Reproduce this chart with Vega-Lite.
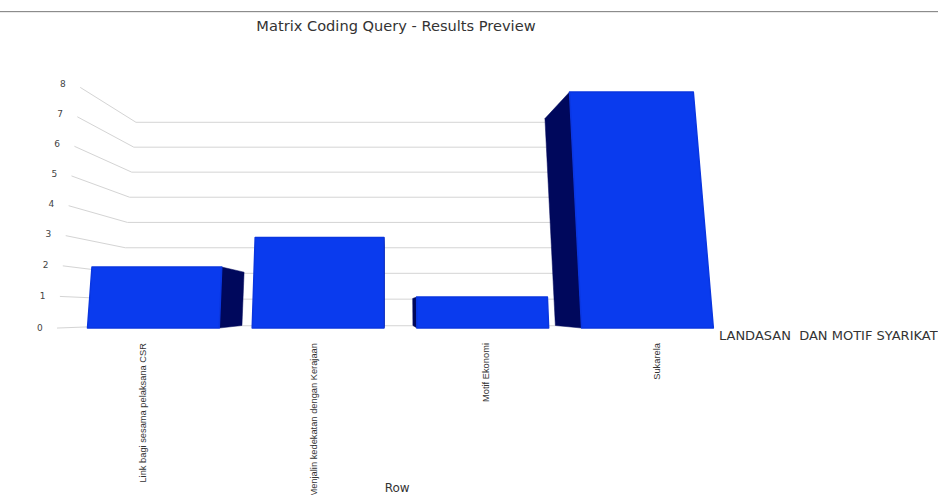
{
  "$schema": "https://vega.github.io/schema/vega-lite/v6.json",
  "width": 938,
  "height": 455,
  "autosize": {"type": "none"},
  "padding": {"top": 40, "left": 0, "right": 0, "bottom": 0},
  "background": "white",
  "datasets": {
    "bars": [
      {"row": "Link bagi sesama pelaksana CSR", "value": 2},
      {"row": "Menjalin kedekatan dengan Kerajaan", "value": 3},
      {"row": "Motif Ekonomi", "value": 1},
      {"row": "Sukarela", "value": 8}
    ],
    "ticks": [
      {"tick": 0}, {"tick": 1}, {"tick": 2}, {"tick": 3}, {"tick": 4},
      {"tick": 5}, {"tick": 6}, {"tick": 7}, {"tick": 8}
    ],
    "single": [{}]
  },
  "layer": [
    {
      "data": {"name": "single"},
      "mark": {"type": "rule", "color": "#777777", "strokeWidth": 1},
      "encoding": {
        "y": {"datum": 10.8, "type": "quantitative", "axis": null,
              "scale": {"type": "pow", "exponent": 0.976, "domain": [-5.61, 9.81], "nice": false, "zero": false}}
      }
    },
    {
      "data": {"name": "ticks"},
      "transform": [
        {"calculate": "-0.185 + 0.0176 * datum.tick", "as": "frontX"},
        {"calculate": "1.02 * datum.tick", "as": "frontY"},
        {"calculate": "0.191 + 0.0129 * datum.tick", "as": "backX"},
        {"calculate": "0.86 * datum.tick + 0.07", "as": "backY"}
      ],
      "mark": {"type": "rule", "color": "#d4d4d4", "strokeWidth": 1},
      "encoding": {
        "x": {"field": "frontX", "type": "quantitative", "axis": null,
              "scale": {"domain": [-0.5313, 5.164], "nice": false, "zero": false}},
        "x2": {"field": "backX"},
        "y": {"field": "frontY", "type": "quantitative", "axis": null,
              "scale": {"type": "pow", "exponent": 0.976, "domain": [-5.61, 9.81], "nice": false, "zero": false}},
        "y2": {"field": "backY"}
      }
    },
    {
      "data": {"name": "ticks"},
      "transform": [
        {"calculate": "0.191 + 0.0129 * datum.tick", "as": "backX"},
        {"calculate": "0.86 * datum.tick + 0.07", "as": "backY"},
        {"calculate": "2.95", "as": "wallEnd"}
      ],
      "mark": {"type": "rule", "color": "#d4d4d4", "strokeWidth": 1},
      "encoding": {
        "x": {"field": "backX", "type": "quantitative", "axis": null,
              "scale": {"domain": [-0.5313, 5.164], "nice": false, "zero": false}},
        "x2": {"field": "wallEnd"},
        "y": {"field": "backY", "type": "quantitative", "axis": null,
              "scale": {"type": "pow", "exponent": 0.976, "domain": [-5.61, 9.81], "nice": false, "zero": false}}
      }
    },
    {
      "data": {"name": "bars"},
      "transform": [
        {"window": [{"op": "row_number", "as": "n"}]},
        {"calculate": "datum.n - 1", "as": "slot"},
        {"calculate": "[0, 1, 2, 3]", "as": "corner"},
        {"flatten": ["corner"]},
        {"calculate": "datum.slot < 1.5 ? datum.slot + 0.8 : datum.slot", "as": "edge"},
        {"calculate": "datum.corner >= 2 ? datum.value : 0", "as": "level"},
        {"calculate": "datum.edge + (1.794 - datum.edge) * 0.00758 * datum.level", "as": "nearX"},
        {"calculate": "datum.corner == 1 || datum.corner == 2", "as": "far"},
        {"calculate": "datum.far ? datum.nearX + 0.135 * (1.82 - datum.nearX) : datum.nearX", "as": "px"},
        {"calculate": "datum.far ? datum.level * 0.875 + 0.078 : datum.level", "as": "py"}
      ],
      "mark": {"type": "line", "fill": "#00085c", "stroke": "#00085c", "strokeWidth": 0.5, "interpolate": "linear-closed", "strokeJoin": "round"},
      "encoding": {
        "x": {"field": "px", "type": "quantitative", "axis": null,
              "scale": {"domain": [-0.5313, 5.164], "nice": false, "zero": false}},
        "y": {"field": "py", "type": "quantitative", "axis": null,
              "scale": {"type": "pow", "exponent": 0.976, "domain": [-5.61, 9.81], "nice": false, "zero": false}},
        "detail": {"field": "row"},
        "order": {"field": "corner"}
      }
    },
    {
      "data": {"name": "bars"},
      "transform": [
        {"window": [{"op": "row_number", "as": "n"}]},
        {"calculate": "datum.n - 1", "as": "slot"},
        {"calculate": "[0, 1, 2, 3]", "as": "corner"},
        {"flatten": ["corner"]},
        {"calculate": "datum.slot + (datum.corner == 1 || datum.corner == 2 ? 0.8 : 0)", "as": "edge"},
        {"calculate": "datum.corner >= 2 ? datum.value : 0", "as": "level"},
        {"calculate": "datum.edge + (1.794 - datum.edge) * 0.00758 * datum.level", "as": "px"}
      ],
      "mark": {"type": "line", "fill": "#0a3bee", "stroke": "#0a36e0", "strokeWidth": 1.5, "interpolate": "linear-closed", "strokeJoin": "round"},
      "encoding": {
        "x": {"field": "px", "type": "quantitative", "axis": null,
              "scale": {"domain": [-0.5313, 5.164], "nice": false, "zero": false}},
        "y": {"field": "level", "type": "quantitative", "axis": null,
              "scale": {"type": "pow", "exponent": 0.976, "domain": [-5.61, 9.81], "nice": false, "zero": false}},
        "detail": {"field": "row"},
        "order": {"field": "corner"}
      }
    },
    {
      "data": {"name": "ticks"},
      "transform": [
        {"calculate": "-0.29 + 0.0176 * datum.tick", "as": "labelX"},
        {"calculate": "1.035 * datum.tick", "as": "labelY"}
      ],
      "mark": {"type": "text", "font": "DejaVu Sans", "fontSize": 9, "color": "#444444", "align": "center", "baseline": "middle"},
      "encoding": {
        "x": {"field": "labelX", "type": "quantitative", "axis": null,
              "scale": {"domain": [-0.5313, 5.164], "nice": false, "zero": false}},
        "y": {"field": "labelY", "type": "quantitative", "axis": null,
              "scale": {"type": "pow", "exponent": 0.976, "domain": [-5.61, 9.81], "nice": false, "zero": false}},
        "text": {"field": "tick", "type": "quantitative"}
      }
    },
    {
      "data": {"name": "bars"},
      "transform": [
        {"window": [{"op": "row_number", "as": "n"}]},
        {"calculate": "1.04 * (datum.n - 1) + 0.337", "as": "labelX"},
        {"calculate": "-0.475", "as": "labelY"}
      ],
      "mark": {"type": "text", "font": "Liberation Sans", "fontSize": 9.3, "color": "#333333", "angle": 270, "align": "right", "baseline": "middle"},
      "encoding": {
        "x": {"field": "labelX", "type": "quantitative", "axis": null,
              "scale": {"domain": [-0.5313, 5.164], "nice": false, "zero": false}},
        "y": {"field": "labelY", "type": "quantitative", "axis": null,
              "scale": {"type": "pow", "exponent": 0.976, "domain": [-5.61, 9.81], "nice": false, "zero": false}},
        "text": {"field": "row"}
      }
    },
    {
      "data": {"name": "single"},
      "mark": {"type": "text", "text": "Matrix Coding Query - Results Preview", "font": "DejaVu Sans", "fontSize": 14.6, "color": "#333333", "align": "center", "baseline": "middle"},
      "encoding": {
        "x": {"datum": 1.873, "type": "quantitative", "axis": null,
              "scale": {"domain": [-0.5313, 5.164], "nice": false, "zero": false}},
        "y": {"datum": 10.27, "type": "quantitative", "axis": null,
              "scale": {"type": "pow", "exponent": 0.976, "domain": [-5.61, 9.81], "nice": false, "zero": false}}
      }
    },
    {
      "data": {"name": "single"},
      "mark": {"type": "text", "text": "Row", "font": "DejaVu Sans", "fontSize": 12, "color": "#333333", "align": "center", "baseline": "middle"},
      "encoding": {
        "x": {"datum": 1.88, "type": "quantitative", "axis": null,
              "scale": {"domain": [-0.5313, 5.164], "nice": false, "zero": false}},
        "y": {"datum": -5.37, "type": "quantitative", "axis": null,
              "scale": {"type": "pow", "exponent": 0.976, "domain": [-5.61, 9.81], "nice": false, "zero": false}}
      }
    },
    {
      "data": {"name": "single"},
      "mark": {"type": "text", "text": "LANDASAN \u00a0DAN MOTIF SYARIKAT", "font": "DejaVu Sans", "fontSize": 13, "color": "#333333", "align": "left", "baseline": "middle"},
      "encoding": {
        "x": {"datum": 3.834, "type": "quantitative", "axis": null,
              "scale": {"domain": [-0.5313, 5.164], "nice": false, "zero": false}},
        "y": {"datum": -0.25, "type": "quantitative", "axis": null,
              "scale": {"type": "pow", "exponent": 0.976, "domain": [-5.61, 9.81], "nice": false, "zero": false}}
      }
    }
  ],
  "config": {"view": {"stroke": null}}
}
